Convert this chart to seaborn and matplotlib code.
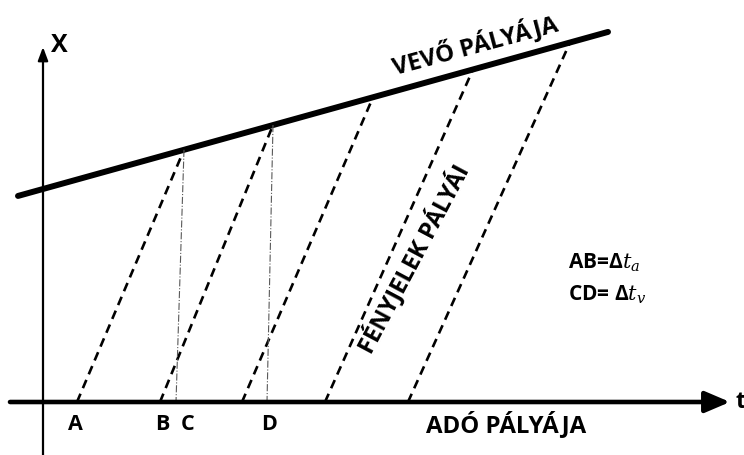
import numpy as np
import pandas as pd
import matplotlib
matplotlib.use("Agg")
import matplotlib.pyplot as plt
import seaborn as sns

# receiver world line: x = x0 + v*t
recv_x0 = 2.13
recv_v = 0.278
recv_t = [-0.25, 5.65]

# light signals: emission time on t axis, reception time on receiver line
emit_t = [0.34, 1.17, 1.99, 2.82, 3.65]
recv_hit_t = [1.41, 2.30, 3.30, 4.30, 5.27]

# projections of the first two receptions back onto t axis (C and D)
proj_t = [1.33, 2.24]

point_labels = ["A", "B", "C", "D"]
point_label_t = [0.32, 1.19, 1.45, 2.26]

sns.set_theme(style="white")
plt.rcParams["font.family"] = ["Open Sans", "DejaVu Sans"]
plt.rcParams["mathtext.fontset"] = "dejavuserif"
plt.rcParams["text.color"] = "black"

fig = plt.figure(figsize=(7.44, 4.55), dpi=100)
ax = fig.add_axes([0, 0, 1, 1])
ax.set_xlim(-0.43, 7.01)
ax.set_ylim(-0.53, 4.02)
ax.axis("off")

# receiver line
df_recv = pd.DataFrame({"t": recv_t, "x": [recv_x0 + recv_v * t for t in recv_t]})
sns.lineplot(data=df_recv, x="t", y="x", color="black", lw=4.3, ax=ax)

# light signal paths (dashed)
rows = []
for i, (te, tr) in enumerate(zip(emit_t, recv_hit_t)):
    rows.append({"seg": i, "t": te, "x": 0.0})
    rows.append({"seg": i, "t": tr, "x": recv_x0 + recv_v * tr})
df_sig = pd.DataFrame(rows)
sns.lineplot(data=df_sig, x="t", y="x", units="seg", estimator=None, sort=False,
             color="black", lw=1.9, linestyle=(0, (3.4, 2.3)), ax=ax)

# thin projection lines down to C and D
rows = []
for i, (tp, tr) in enumerate(zip(proj_t, recv_hit_t[:2])):
    rows.append({"seg": i, "t": tr, "x": recv_x0 + recv_v * tr})
    rows.append({"seg": i, "t": tp, "x": 0.0})
df_proj = pd.DataFrame(rows)
sns.lineplot(data=df_proj, x="t", y="x", units="seg", estimator=None, sort=False,
             color="0.35", lw=0.8, linestyle="-.", ax=ax)

# axes with arrows
ax.annotate("", xy=(6.87, 0), xytext=(-0.33, 0),
            arrowprops=dict(arrowstyle="-|>,head_length=0.75,head_width=0.32",
                            lw=3.3, color="black", mutation_scale=20,
                            shrinkA=0, shrinkB=0))
ax.annotate("", xy=(0, 3.55), xytext=(0, -0.53),
            arrowprops=dict(arrowstyle="-|>,head_length=0.8,head_width=0.3",
                            lw=1.6, color="black", mutation_scale=10,
                            shrinkA=0, shrinkB=0))
ax.text(0.08, 3.57, "X", fontsize=18, fontweight="bold", ha="left", va="center")
ax.text(6.92, 0.0, "t", fontsize=17, fontweight="bold", ha="left", va="center")

for lab, tl in zip(point_labels, point_label_t):
    ax.text(tl, -0.23, lab, fontsize=15.5, fontweight="bold", ha="center", va="center")

ax.text(4.63, -0.23, "ADÓ PÁLYÁJA", fontsize=17.3, fontweight="bold",
        ha="center", va="center")
ax.text(4.32, 3.57, "VEVŐ PÁLYÁJA", fontsize=17.3, fontweight="bold",
        ha="center", va="center", rotation=15, rotation_mode="anchor")
ax.text(3.70, 1.44, "FÉNYJELEK PÁLYÁI", fontsize=17, fontweight="bold",
        ha="center", va="center", rotation=62, rotation_mode="anchor")

ax.text(5.25, 1.39, r"AB=Δ$\mathbf{\mathit{t_a}}$", fontsize=15, fontweight="bold",
        ha="left", va="center")
ax.text(5.25, 1.07, r"CD= Δ$\mathbf{\mathit{t_v}}$", fontsize=15, fontweight="bold",
        ha="left", va="center")

fig.savefig("out.png", dpi=100)
plt.close(fig)
